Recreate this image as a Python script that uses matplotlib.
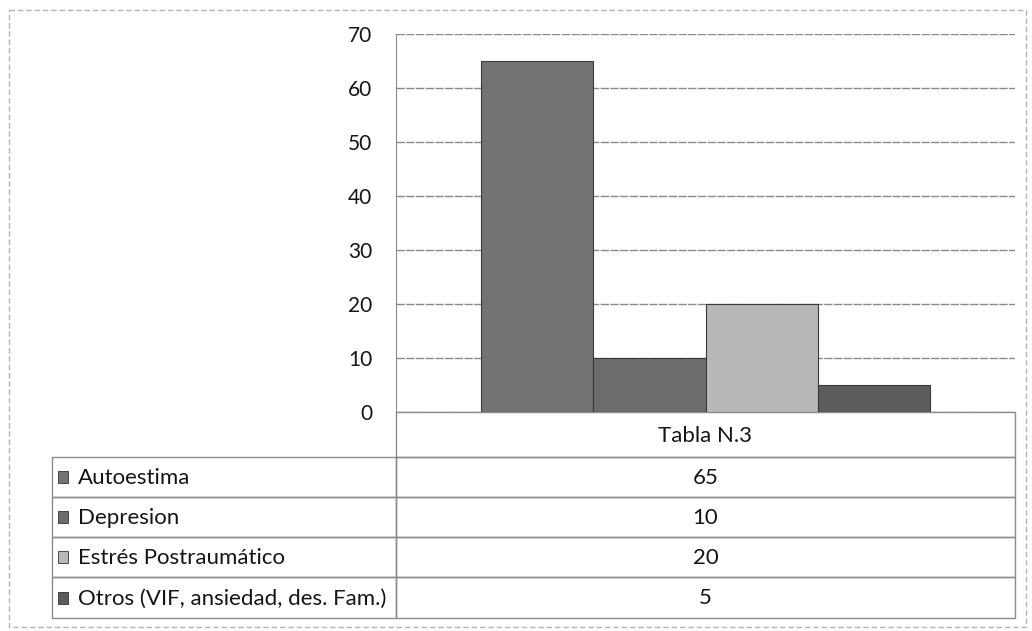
import matplotlib
matplotlib.use("Agg")
import matplotlib.pyplot as plt
from matplotlib.patches import Rectangle
import numpy as np

plt.rcParams['font.family'] = ['Lato', 'DejaVu Sans']

category = "Tabla N.3"
series = ["Autoestima", "Depresion", "Estrés Postraumático", "Otros (VIF, ansiedad, des. Fam.)"]
values = [65, 10, 20, 5]
colors = ["#737373", "#6c6c6c", "#b8b8b8", "#5c5c5c"]
yticks = [0, 10, 20, 30, 40, 50, 60, 70]

W, H = 1032, 631
fig = plt.figure(figsize=(W / 100, H / 100), dpi=100)

# background axes in pixel coordinates for frame and data table
bg = fig.add_axes([0, 0, 1, 1])
bg.set_xlim(0, W)
bg.set_ylim(H, 0)
bg.axis("off")

# plot area in pixels
L, R, T, B = 396, 1015, 34, 412
ax = fig.add_axes([L / W, 1 - B / H, (R - L) / W, (B - T) / H])

# bars
group_frac = 449 / 619
bw = group_frac / len(values)
offsets = (np.arange(len(values)) - (len(values) - 1) / 2) * bw
for off, v, c in zip(offsets, values, colors):
    ax.bar(off, v, width=bw, color=c, edgecolor="#3a3a3a", linewidth=0.8, zorder=3)

txt_c = "#151515"
ax.set_xlim(-0.5, 0.5)
ax.set_ylim(0, 70)
ax.set_yticks(yticks)
ax.set_yticklabels([str(t) for t in yticks], fontsize=15, color=txt_c)
ax.tick_params(axis="y", length=0, pad=17)
ax.set_xticks([])
ax.yaxis.grid(True, color="#8a8a8a", linewidth=1.0, linestyle=(0, (6, 1)))
ax.set_axisbelow(True)
for s in ["top", "right", "bottom"]:
    ax.spines[s].set_visible(False)
ax.spines["left"].set_color("#8a8a8a")
ax.patch.set_alpha(0)

# outer dashed frame
bg.add_patch(Rectangle((9, 10), 1017, 617, fill=False, edgecolor="#b5b5b5",
                       linewidth=1.0, linestyle=(0, (4, 2))))

# data table
line_c = "#8a8a8a"
hdr_top, hdr_bot = B, 457
row_edges = [457, 497, 537, 577, 618]
tl = 52
fs = 16
bg.add_patch(Rectangle((L, hdr_top), R - L, hdr_bot - hdr_top, fill=False,
                       edgecolor=line_c, linewidth=1.0))
bg.text((L + R) / 2, (hdr_top + hdr_bot) / 2 + 1, category, ha="center", va="center",
        fontsize=fs, color=txt_c)
for i, (name, v, c) in enumerate(zip(series, values, colors)):
    y0, y1 = row_edges[i], row_edges[i + 1]
    bg.add_patch(Rectangle((tl, y0), L - tl, y1 - y0, fill=False, edgecolor=line_c, linewidth=1.0))
    bg.add_patch(Rectangle((L, y0), R - L, y1 - y0, fill=False, edgecolor=line_c, linewidth=1.0))
    ym = (y0 + y1) / 2
    bg.add_patch(Rectangle((58, ym - 6), 10, 12, facecolor=c, edgecolor="#333333", linewidth=0.6))
    bg.text(78, ym + 1, name, ha="left", va="center", fontsize=fs, color=txt_c)
    bg.text((L + R) / 2, ym + 1, str(v), ha="center", va="center", fontsize=fs, color=txt_c)

fig.savefig("out.png", dpi=100)
